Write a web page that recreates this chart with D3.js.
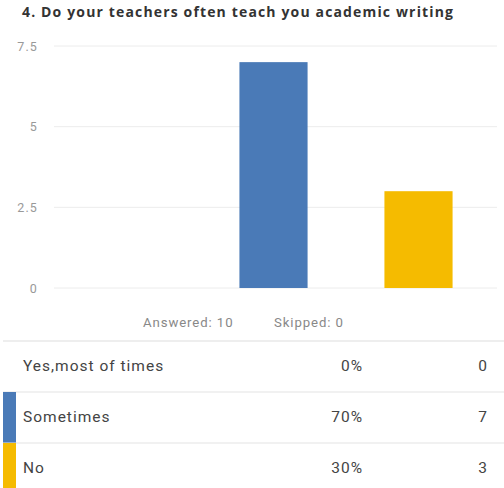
<!DOCTYPE html>
<html>
<head>
<meta charset="utf-8">
<script src="https://cdn.jsdelivr.net/npm/d3@7"></script>
<style>
  html, body { margin: 0; padding: 0; background: #fff; }
  svg { display: block; }
</style>
</head>
<body>
<svg id="chart" width="504" height="488"></svg>
<script>
// Survey question: answer choices, counts and shares
const title = "4. Do your teachers often teach you academic writing";
const categories = ["Yes,most of times", "Sometimes", "No"];
const counts = [0, 7, 3];
const percents = ["0%", "70%", "30%"];
const colors = ["#4a7ab7", "#4a7ab7", "#f5bb00"];
const yTicks = [0, 2.5, 5, 7.5];
const yTickLabels = ["0", "2.5", "5", "7.5"];
const answered = 10;
const skipped = 0;

const svg = d3.select("#chart");
const font = "Roboto, 'Open Sans', sans-serif";

// Title
svg.append("text")
  .attr("x", 22).attr("y", 17)
  .attr("font-family", "'Open Sans', sans-serif")
  .attr("font-weight", 700)
  .attr("font-size", 14)
  .attr("letter-spacing", 1.15)
  .attr("fill", "#333")
  .text(title);

// Scales
const x = d3.scaleBand().domain(categories).range([56, 491]).paddingInner(0.53).paddingOuter(0.265);
const y = d3.scaleLinear().domain([0, 7.5]).range([288, 46]);

// Gridlines
svg.append("g").selectAll("line").data(yTicks).join("line")
  .attr("x1", 54).attr("x2", 497)
  .attr("y1", d => y(d)).attr("y2", d => y(d))
  .attr("stroke", "#ececec").attr("stroke-width", 1);

// Y axis labels
const yAxis = d3.axisLeft(y).tickValues(yTicks).tickFormat((d, i) => yTickLabels[i]).tickSize(0).tickPadding(0);
const gy = svg.append("g").attr("transform", "translate(38,0)").call(yAxis);
gy.select(".domain").remove();
gy.selectAll("text").attr("font-family", font).attr("font-size", 12.5)
  .attr("letter-spacing", 1.1).attr("fill", "#999");

// Bars
const catColor = d3.scaleOrdinal().domain(categories).range(colors);
svg.append("g").selectAll("rect").data(categories).join("rect")
  .attr("x", d => x(d))
  .attr("width", x.bandwidth())
  .attr("y", (d, i) => y(counts[i]))
  .attr("height", (d, i) => y(0) - y(counts[i]))
  .attr("fill", d => catColor(d));

// Summary line
const summary = svg.append("g")
  .attr("font-family", font).attr("font-size", 13.2)
  .attr("letter-spacing", 0.9).attr("fill", "#888");
summary.append("text").attr("x", 143).attr("y", 327).text("Answered: " + answered);
summary.append("text").attr("x", 274).attr("y", 327).text("Skipped: " + skipped);

// Table of answers
const rowTop = 341, rowH = 51;
svg.append("line").attr("x1", 3).attr("x2", 504).attr("y1", rowTop).attr("y2", rowTop)
  .attr("stroke", "#ddd");
const rows = svg.append("g").selectAll("g").data(categories).join("g")
  .attr("transform", (d, i) => `translate(0,${rowTop + i * rowH})`);
rows.filter((d, i) => i > 0).append("line")
  .attr("x1", 3).attr("x2", 504).attr("y1", 0).attr("y2", 0).attr("stroke", "#e3e3e3");
rows.filter((d, i) => counts[i] > 0).append("rect")
  .attr("x", 3).attr("y", 0).attr("width", 13).attr("height", rowH)
  .attr("fill", d => catColor(d));
const cell = sel => sel.attr("font-family", font).attr("font-size", 15.5)
  .attr("letter-spacing", 1.0).attr("fill", "#444");
rows.append("text").attr("x", 23).attr("y", 30).call(cell).text(d => d);
rows.append("text").attr("x", 363).attr("y", 30).attr("text-anchor", "end").call(cell)
  .text((d, i) => percents[i]);
rows.append("text").attr("x", 488).attr("y", 30).attr("text-anchor", "end").call(cell)
  .text((d, i) => counts[i]);
</script>
</body>
</html>
